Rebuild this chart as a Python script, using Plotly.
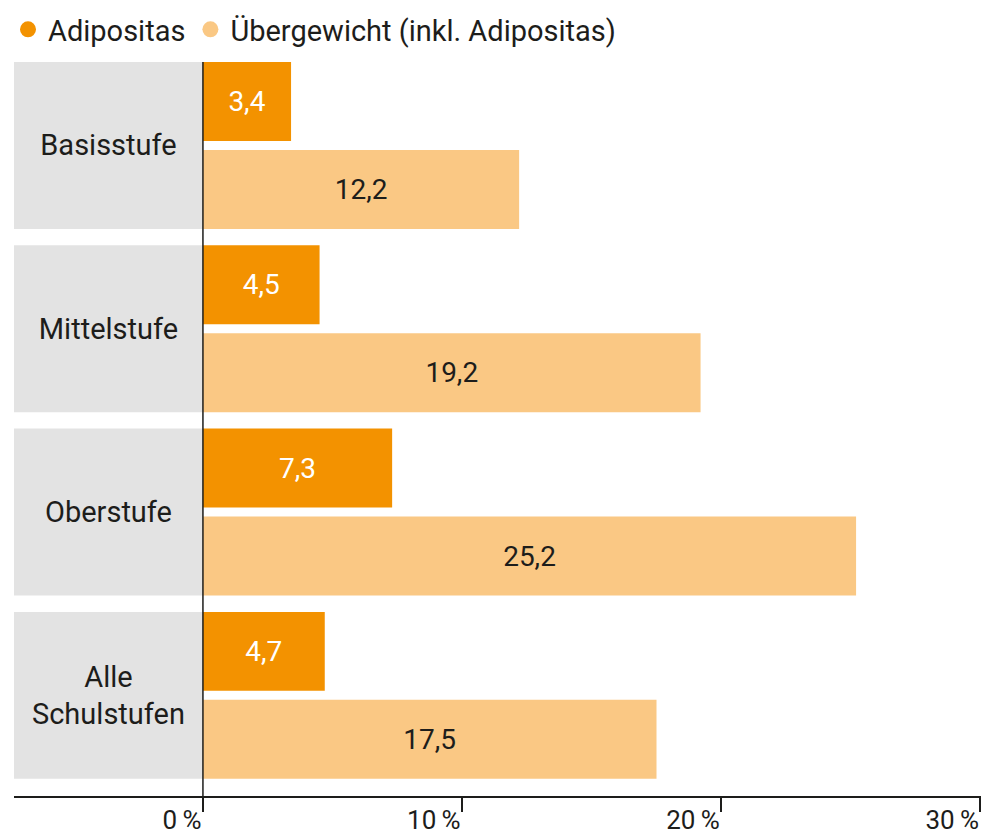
import plotly.graph_objects as go

# ---- data ----
categories = ["Basisstufe", "Mittelstufe", "Oberstufe", "Alle<br>Schulstufen"]
adipositas = [3.4, 4.5, 7.3, 4.7]
uebergewicht = [12.2, 19.2, 25.2, 17.5]
series_names = ["Adipositas", "Übergewicht (inkl. Adipositas)"]
tick_values = [0, 10, 20, 30]
tick_labels = [f"{v}\u2009%" for v in tick_values]

# ---- style ----
C_ADI = "#f39200"
C_UEB = "#fac884"
C_BOX = "#e3e3e3"
C_TXT = "#1d1d1b"
FONT = "Roboto"

X_MIN, X_MAX = -7.29, 30.02
BOX = 0.9104   # height of category band (category units)
BAR = 0.4307   # height of a single bar

fig = go.Figure()

# grey label bands left of zero
fig.add_trace(go.Bar(
    y=categories, x=[0 - X_MIN] * len(categories), base=X_MIN,
    orientation="h", width=BOX, offset=-BOX / 2,
    marker=dict(color=C_BOX, line=dict(width=0)),
    text=categories, textposition="inside", insidetextanchor="middle",
    textangle=0, constraintext="none",
    textfont=dict(family=FONT, size=29, color=C_TXT),
    showlegend=False, hoverinfo="skip",
))

fig.add_trace(go.Bar(
    y=categories, x=adipositas, orientation="h",
    width=BAR, offset=-BOX / 2, name=series_names[0],
    marker=dict(color=C_ADI, line=dict(width=0)),
    texttemplate="%{x:.1f}", textposition="inside", insidetextanchor="middle",
    textangle=0, constraintext="none",
    textfont=dict(family=FONT, size=28, color="white"),
    showlegend=False,
))

fig.add_trace(go.Bar(
    y=categories, x=uebergewicht, orientation="h",
    width=BAR, offset=BOX / 2 - BAR, name=series_names[1],
    marker=dict(color=C_UEB, line=dict(width=0)),
    texttemplate="%{x:.1f}", textposition="inside", insidetextanchor="middle",
    textangle=0, constraintext="none",
    textfont=dict(family=FONT, size=28, color=C_TXT),
    showlegend=False,
))

# legend entries (circles)
for name, col in zip(series_names, [C_ADI, C_UEB]):
    fig.add_trace(go.Scatter(
        x=[None], y=[None], mode="markers", name=name,
        marker=dict(symbol="circle", size=20, color=col),
        hoverinfo="skip",
    ))

# zero line above the bars
fig.add_shape(type="line", xref="x", yref="paper", x0=0, x1=0, y0=0, y1=1,
              line=dict(color=C_TXT, width=1.5), layer="above")

fig.update_layout(
    width=995, height=826,
    margin=dict(l=6, r=21.5, t=54, b=37.5, autoexpand=False),
    paper_bgcolor="white", plot_bgcolor="white",
    barmode="overlay",
    separators=",.",
    font=dict(family=FONT, size=28, color=C_TXT),
    showlegend=True,
    legend=dict(orientation="h", xref="container", yref="paper",
                x=-0.003, y=1.079, xanchor="left", yanchor="top",
                font=dict(family=FONT, size=29, color=C_TXT),
                itemsizing="trace", bgcolor="rgba(0,0,0,0)"),
    xaxis=dict(range=[X_MIN, X_MAX], tickvals=tick_values, ticktext=tick_labels,
               ticks="outside", ticklen=14,
               tickwidth=1.5, tickcolor=C_TXT,
               ticklabelposition="outside left",
               tickfont=dict(family=FONT, size=26, color=C_TXT),
               showline=True, linecolor=C_TXT, linewidth=1.5,
               showgrid=False, zeroline=False, fixedrange=True, automargin=False),
    yaxis=dict(type="category", categoryorder="array", categoryarray=categories,
               range=[3.549, -0.4552], showticklabels=False, ticks="",
               showline=False, showgrid=False, zeroline=False, fixedrange=True,
               automargin=False),
)

fig.write_html("out.html")
